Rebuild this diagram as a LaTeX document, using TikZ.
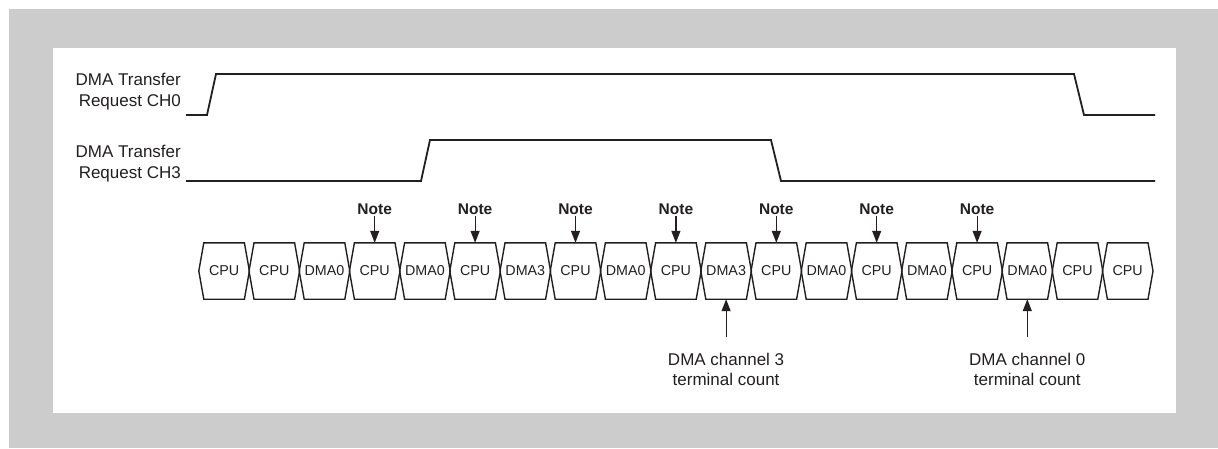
\documentclass[tikz,border=0pt]{standalone}
\usepackage{fontspec}
\setmainfont{Liberation Sans}
\usetikzlibrary{arrows.meta}
\definecolor{bggray}{RGB}{204,204,204}
\definecolor{ink}{RGB}{35,31,32}
\begin{document}
\begin{tikzpicture}[x=1pt,y=-1pt,
  sig/.style={line width=1.8pt, draw=ink, line join=miter},
  busbox/.style={line width=1.4pt, draw=ink, line join=miter},
  cell/.style={minimum width=50.2pt, minimum height=56pt, inner sep=0pt, font=\fontsize{14.3}{16}\selectfont, text=ink},
  lbl/.style={align=right, font=\fontsize{17}{21}\selectfont, text=ink, inner sep=0pt},
  notelbl/.style={font=\fontsize{15.5}{17}\selectfont\bfseries, text=ink, inner sep=1pt},
  tclbl/.style={align=center, font=\fontsize{17}{20}\selectfont, text=ink, inner sep=0pt},
  arr/.style={line width=1.2pt, draw=ink, -{Triangle[width=9pt,length=12pt]}}
]
\useasboundingbox (0,0) rectangle (1218,448);
\fill[white] (0,0) rectangle (1218,448);
\fill[bggray] (9,9) rectangle (1218,448);
\fill[white] (53,48) rectangle (1176,413);

% signal labels
\node[lbl, anchor=base east] (ch0) at (181,106) {DMA Transfer\\Request CH0};
\node[lbl, anchor=base east] (ch3) at (181,178) {DMA Transfer\\Request CH3};

% waveforms
\draw[sig] (186,115) -- (207,115) -- (216,74) -- (1074,74) -- (1084,115) -- (1155,115);
\draw[sig] (186,181) -- (421,181) -- (430,140) -- (771,140) -- (781,181) -- (1155,181);

% bus cycles
\foreach \t [count=\i from 0] in {CPU,CPU,DMA0,CPU,DMA0,CPU,DMA3,CPU,DMA0,CPU,DMA3,CPU,DMA0,CPU,DMA0,CPU,DMA0,CPU,CPU} {
  \node[cell] (b\i) at ({224.1+50.2*\i},271) {\t};
  \draw[busbox] (b\i.west) -- ([xshift=5pt]b\i.north west) -- ([xshift=-5pt]b\i.north east) -- (b\i.east) -- ([xshift=-5pt]b\i.south east) -- ([xshift=5pt]b\i.south west) -- cycle;
}

% notes
\foreach \i in {3,5,7,9,11,13,15} {
  \node[notelbl] (n\i) at (b\i.north |- 0,209) {Note};
  \draw[arr] (n\i) -- (b\i.north);
}

% terminal counts
\node[tclbl, anchor=north] (tc3) at (b10.south |- 0,353) {DMA channel 3\\terminal count};
\coordinate (t3) at (b10.south |- 0,337);
\draw[arr] (t3) -- (b10.south);
\node[tclbl, anchor=north] (tc0) at (b16.south |- 0,353) {DMA channel 0\\terminal count};
\coordinate (t0) at (b16.south |- 0,337);
\draw[arr] (t0) -- (b16.south);
\end{tikzpicture}
\end{document}
